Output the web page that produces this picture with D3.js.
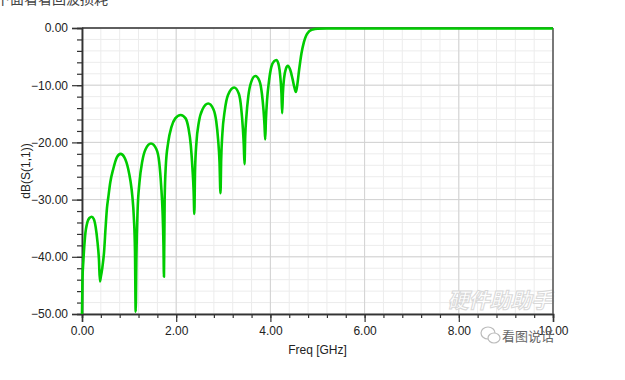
<!DOCTYPE html>
<html><head><meta charset="utf-8">
<script src="https://cdn.jsdelivr.net/npm/d3@7"></script>
<style>
html,body{margin:0;padding:0;background:#fff;}
svg{display:block;font-family:"Liberation Sans",Arial,sans-serif;}
</style></head>
<body>
<svg id="c" width="625" height="380"></svg>
<script>
// ---- data ----
const freqGHz = [0,0.01,0.03,0.064,0.12,0.16,0.206,0.25,0.29,0.33,0.36,0.38,
 0.40,0.43,0.47,0.50,0.53,0.56,0.60,0.665,0.74,0.82,0.90,0.98,1.03,1.07,1.10,1.125,1.14,
 1.155,1.18,1.22,1.28,1.35,1.465,1.58,1.64,1.68,1.71,1.73,1.74,
 1.755,1.78,1.83,1.90,1.98,2.095,2.20,2.26,2.31,2.345,2.37,2.385,
 2.40,2.43,2.48,2.56,2.68,2.79,2.85,2.89,2.92,2.94,
 2.955,2.98,3.03,3.10,3.23,3.33,3.38,3.415,3.435,3.45,
 3.465,3.49,3.53,3.59,3.68,3.77,3.82,3.855,3.875,3.89,
 3.905,3.93,3.97,4.02,4.08,4.13,4.18,4.21,4.235,4.25,
 4.265,4.29,4.33,4.37,4.42,4.47,4.51,4.54,
 4.57,4.61,4.66,4.71,4.76,4.82,4.90,5.0,5.2,10];
const dbS11 = [-50,-44,-40.6,-36.5,-33.8,-33.2,-33,-33.4,-34.8,-37.5,-40.5,-44.3,
 -43.5,-42,-39,-35,-31.5,-29.5,-27,-24.6,-22.6,-22,-22.6,-24.6,-26.8,-29.5,-33,-39,-49.6,
 -40,-32,-27,-23.3,-21.2,-20.2,-21.2,-23.5,-27.5,-32,-38,-43.5,
 -30,-24,-20,-17.3,-15.8,-15.2,-15.8,-17.5,-20.5,-24.5,-28.5,-32.5,
 -25,-20,-16.5,-14.2,-13.2,-14.2,-16.3,-19.5,-23.5,-28.9,
 -23,-18.5,-14.5,-11.7,-10.4,-11.5,-14,-17.5,-20.5,-23.8,
 -19,-15.5,-12,-9.5,-8.4,-9.3,-11.5,-14.5,-17,-19.5,
 -16,-12.5,-9.3,-6.8,-5.8,-5.6,-6.6,-8.5,-11.5,-14.9,
 -11.5,-8.8,-7.1,-6.6,-7.3,-8.9,-10.4,-11.2,
 -10,-7.3,-4.4,-2.5,-1.3,-0.6,-0.25,-0.12,-0.08,-0.08];
const xTicks = [0,2,4,6,8,10];
const yTicks = [0,-10,-20,-30,-40,-50];
const xLabel = "Freq [GHz]";
const yLabel = "dB(S(1,1))";
const topText = "下面看看回波损耗";
const watermark = "看图说话";
const faintMark = "硬件助助手";

// ---- layout ----
const svg = d3.select("#c");
const L = 82, R = 553, T = 28, B = 314;
const x = d3.scaleLinear().domain([0,10]).range([L,R]);
const y = d3.scaleLinear().domain([-50,0]).range([B,T]);

const minorX = d3.range(0,10.001,0.4);
const minorY = d3.range(-50,0.001,2);

const g = svg.append("g");
g.selectAll(".mgx").data(minorX).join("line")
 .attr("x1",d=>x(d)).attr("x2",d=>x(d)).attr("y1",T).attr("y2",B)
 .attr("stroke","#ececec").attr("stroke-width",1);
g.selectAll(".mgy").data(minorY).join("line")
 .attr("x1",L).attr("x2",R).attr("y1",d=>y(d)).attr("y2",d=>y(d))
 .attr("stroke","#ececec").attr("stroke-width",1);
g.selectAll(".Mgx").data(xTicks).join("line")
 .attr("x1",d=>x(d)).attr("x2",d=>x(d)).attr("y1",T).attr("y2",B)
 .attr("stroke","#d2d2d2").attr("stroke-width",1);
g.selectAll(".Mgy").data(yTicks).join("line")
 .attr("x1",L).attr("x2",R).attr("y1",d=>y(d)).attr("y2",d=>y(d))
 .attr("stroke","#d2d2d2").attr("stroke-width",1);

// faint watermark inside plot
svg.append("text").attr("x",500).attr("y",308)
 .attr("text-anchor","middle").attr("font-size",21).attr("font-weight","bold")
 .attr("font-style","italic").attr("font-family","'Noto Sans CJK SC'")
 .attr("fill","#fff").attr("stroke","#d8d8d8").attr("stroke-width",1)
 .text(faintMark);

// axes
const fmt = d3.format(".2f");
const xAxis = d3.axisBottom(x).tickValues(xTicks).tickFormat(fmt).tickSize(8).tickPadding(4);
const xMinor = d3.axisBottom(x).tickValues(minorX).tickFormat("").tickSize(4);
const yAxis = d3.axisLeft(y).tickValues(yTicks).tickFormat(fmt).tickSize(10).tickPadding(4);
const yMinor = d3.axisLeft(y).tickValues(minorY).tickFormat("").tickSize(5);

function styleAxis(sel){
  sel.select(".domain").attr("stroke","#333").attr("stroke-width",1.5);
  sel.selectAll(".tick line").attr("stroke","#333").attr("stroke-width",1.2);
  sel.selectAll("text").attr("font-size",12).attr("fill","#222")
     .attr("font-family","'Liberation Sans',Arial,sans-serif");
}
svg.append("g").attr("transform",`translate(0,${B})`).call(xMinor).call(styleAxis);
svg.append("g").attr("transform",`translate(0,${B})`).call(xAxis).call(styleAxis);
svg.append("g").attr("transform",`translate(${L},0)`).call(yMinor).call(styleAxis);
svg.append("g").attr("transform",`translate(${L},0)`).call(yAxis).call(styleAxis);

// frame top & right
svg.append("line").attr("x1",L).attr("x2",R).attr("y1",T).attr("y2",T)
 .attr("stroke","#333").attr("stroke-width",1.5);
svg.append("line").attr("x1",R).attr("x2",R).attr("y1",T).attr("y2",B)
 .attr("stroke","#555").attr("stroke-width",1.5);

// axis titles
svg.append("text").attr("x",(L+R)/2).attr("y",354).attr("text-anchor","middle")
 .attr("font-size",12).attr("fill","#222").text(xLabel);
svg.append("text").attr("transform",`translate(30,${(T+B)/2}) rotate(-90)`)
 .attr("text-anchor","middle").attr("font-size",12).attr("fill","#222").text(yLabel);

// curve
const pts = freqGHz.map((f,i)=>[f,dbS11[i]]);
svg.append("path").datum(pts)
 .attr("fill","none").attr("stroke","#00cc00").attr("stroke-width",2.6)
 .attr("stroke-linejoin","round")
 .attr("d",d3.line().x(d=>x(d[0])).y(d=>y(d[1])).curve(d3.curveMonotoneX));

// top clipped text
svg.append("text").attr("x",-4).attr("y",4).attr("font-size",14)
 .attr("font-family","'Noto Sans CJK SC'").attr("fill","#444").text(topText);

// bottom-right watermark with icon
const wm = svg.append("g").attr("transform","translate(488,335)");
wm.append("ellipse").attr("cx",0).attr("cy",-2).attr("rx",7).attr("ry",6)
  .attr("fill","#fff").attr("stroke","#bbb").attr("stroke-width",1.2);
wm.append("ellipse").attr("cx",6).attr("cy",3).attr("rx",6).attr("ry",5)
  .attr("fill","#fff").attr("stroke","#bbb").attr("stroke-width",1.2);
svg.append("text").attr("x",502).attr("y",341).attr("font-size",13)
 .attr("font-family","'Noto Sans CJK SC'").attr("fill","#666").text(watermark);
</script>
</body></html>
